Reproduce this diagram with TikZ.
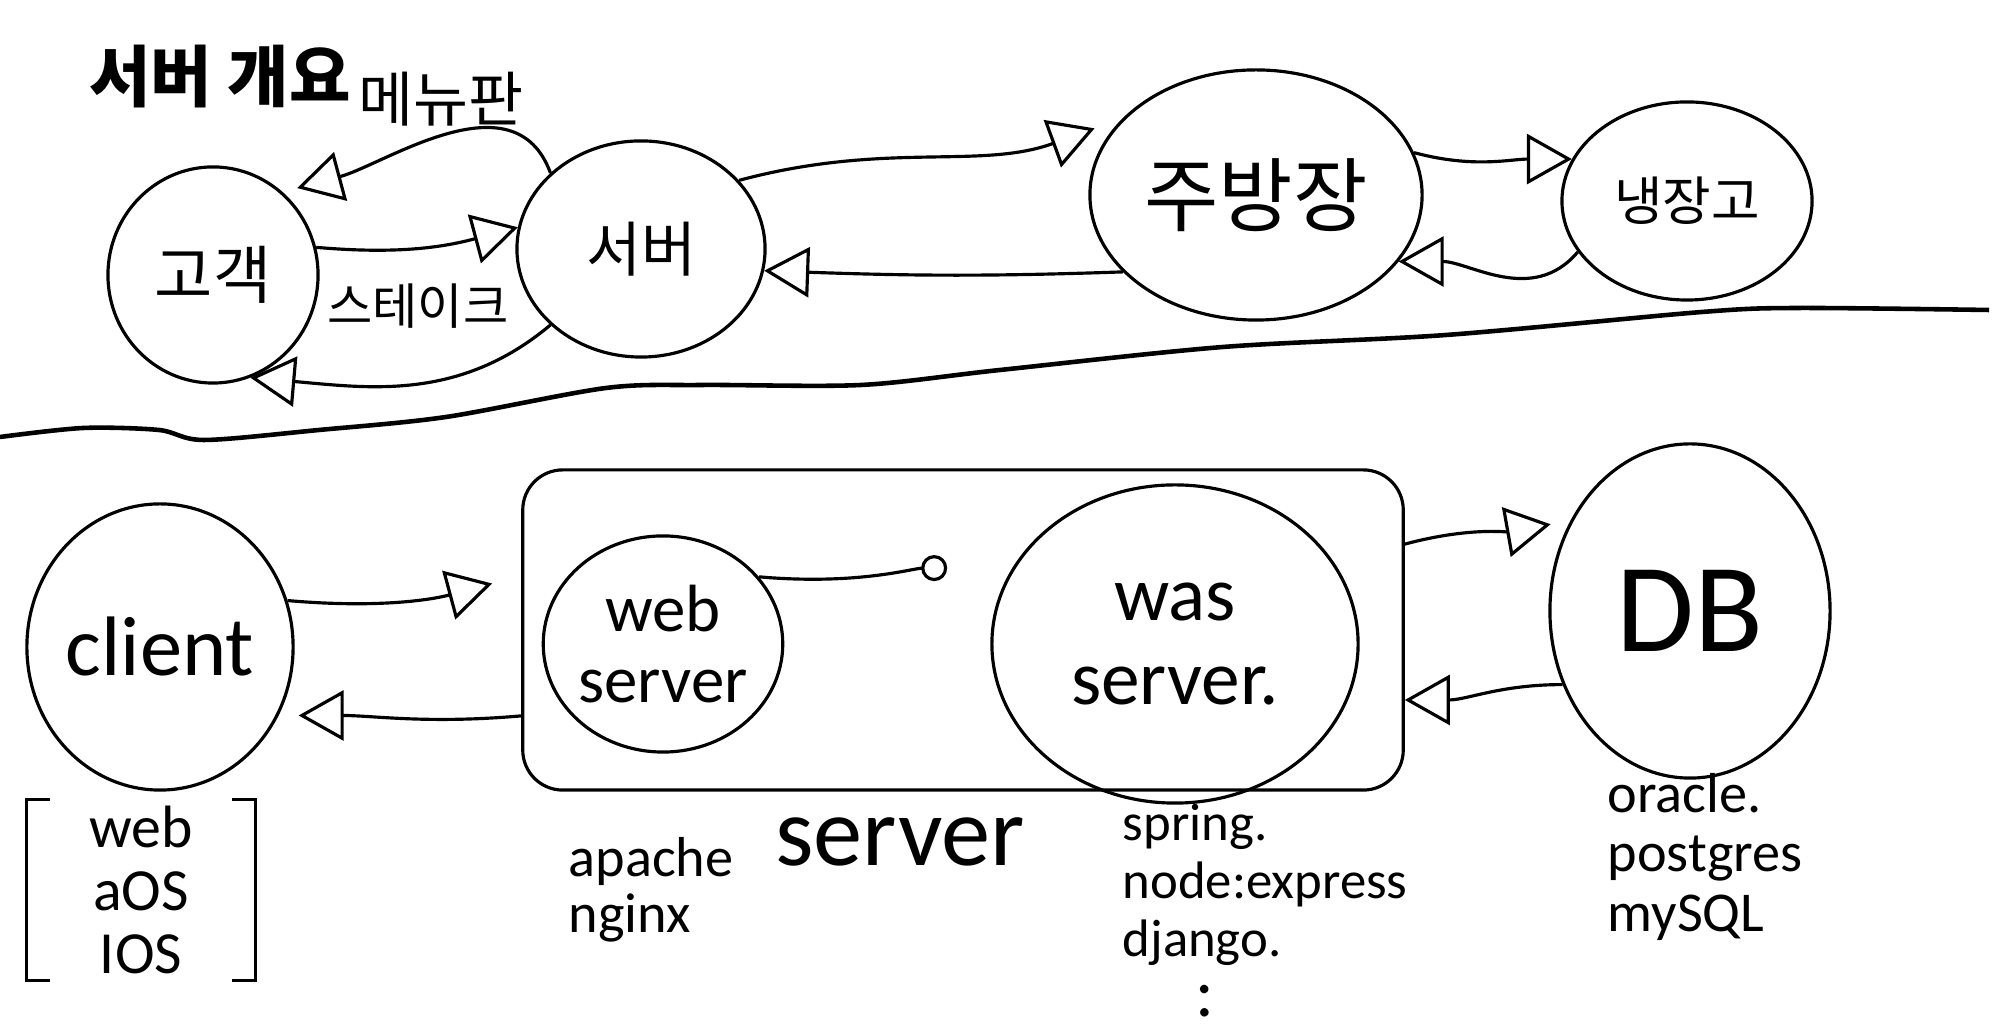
\documentclass[tikz,border=0pt]{standalone}
\usepackage{fontspec}
\setmainfont{Carlito}
\newfontfamily\kr{Noto Sans CJK KR}
\usetikzlibrary{shapes.geometric,arrows.meta}

\begin{document}
\begin{tikzpicture}[x=0.01cm,y=0.01cm,
   every node/.style={inner sep=0pt},
   blob/.style={draw,ellipse,line width=0.9pt},
   flow/.style={line width=0.9pt,-{Triangle[open,length=4.5mm,width=5mm]}},
   note/.style={align=left,anchor=west}]
\useasboundingbox (0,0) rectangle (2000,1031);
\node[font=\kr\bfseries\fontsize{19}{19}\selectfont] (title) at (220,954) {서버 개요};
% restaurant
\node[blob,minimum width=2.1cm,minimum height=2.16cm,font=\kr\fontsize{18}{18}\selectfont] (cust) at (213,756) {고객};
\node[blob,minimum width=2.48cm,minimum height=2.16cm,font=\kr\fontsize{17}{17}\selectfont] (waiter) at (641,782) {서버};
\node[blob,minimum width=3.32cm,minimum height=2.5cm,font=\kr\fontsize{23}{23}\selectfont] (chef) at (1256,836) {주방장};
\node[blob,minimum width=2.5cm,minimum height=1.98cm,font=\kr\fontsize{15}{15}\selectfont] (fridge) at (1687,830) {냉장고};
\draw[flow,shorten >=1.5mm] (waiter.140) to[out=110,in=15]
   node[above=0.8mm,font=\kr\fontsize{17}{17}\selectfont] (menu) {메뉴판} (cust.50);
\draw[flow] (cust.15) to[out=-5,in=195]
   node[below=3.5mm,font=\kr\fontsize{14}{14}\selectfont] (steak) {스테이크} (waiter.170);
\draw[flow] (waiter.220) to[out=220,in=-5] (cust.-70);
\draw[flow,shorten >=3mm] (waiter.35) to[out=15,in=200] (chef.150);
\draw[flow] (chef.210) to[out=182,in=-2] (waiter.-10);
\draw[flow] (chef.15) to[out=-15,in=180] (fridge.160);
\draw[flow] (fridge.205) to[out=230,in=0] (chef.-25);
% divider
\draw[line width=1.3pt] plot[smooth] coordinates {(0,594) (83,603) (159,601) (204,591)
   (319,601) (446,614) (606,643) (702,646) (861,646) (1000,661) (1223,684)
   (1446,696) (1702,719) (1797,723) (1989,721)};
% web service
\node[blob,minimum width=2.62cm,minimum height=2.86cm,font=\fontsize{24}{24}\selectfont] (client) at (160,384) {client};
\node[draw,line width=0.9pt,rounded corners=4mm,minimum width=8.8cm,minimum height=3.2cm] (box) at (963,401) {};
\node[blob,minimum width=2.24cm,minimum height=2.16cm,align=center,font=\fontsize{19}{20}\selectfont] (web) at (663,387) {web\\server};
\node[blob,minimum width=3.66cm,minimum height=3.18cm,align=center,font=\fontsize{22}{24}\selectfont] (was) at (1175,387) {was\\server.};
\node[blob,minimum width=2.8cm,minimum height=3.34cm,font=\fontsize{36}{36}\selectfont] (db) at (1690,420) {DB};
\draw[flow,shorten >=3mm] (client.20) to[out=-5,in=195] (box.173);
\draw[flow,shorten >=2mm] (box.191) to[out=185,in=0] (client.-30);
\draw[line width=0.9pt,shorten >=6.5mm,-{Circle[open,length=2.6mm]}] (web.35) to[out=-5,in=180] (was.155);
\draw[flow,shorten >=2mm] (box.11) to[out=15,in=190] (db.143);
\draw[flow] (db.210) to[out=180,in=0] (box.-9);
% examples
\node[align=center,minimum width=2.27cm,minimum height=1.8cm,font=\fontsize{17}{18}\selectfont] (os) at (141,141) {web\\aOS\\IOS};
\draw[line width=0.9pt] ([xshift=2.3mm]os.north west) -| (os.south west) -- ++(23,0);
\draw[line width=0.9pt] ([xshift=-2.3mm]os.north east) -| (os.south east) -- ++(-23,0);
\node[note,font=\fontsize{16}{16}\selectfont] (websw) at (568,141) {apache\\nginx};
\node[font=\fontsize{28}{28}\selectfont] (boxname) at (900,189) {server};
\node[note,font=\fontsize{15}{16.5}\selectfont] (wassw) at (1122,146) {spring.\\node:express\\django.};
\node[font=\fontsize{20}{20}\selectfont] (etc) at (1205,30) {:};
\node[note,font=\fontsize{16}{17}\selectfont] (dbsw) at (1607,174) {oracle.\\postgres\\mySQL};
\end{tikzpicture}
\end{document}
